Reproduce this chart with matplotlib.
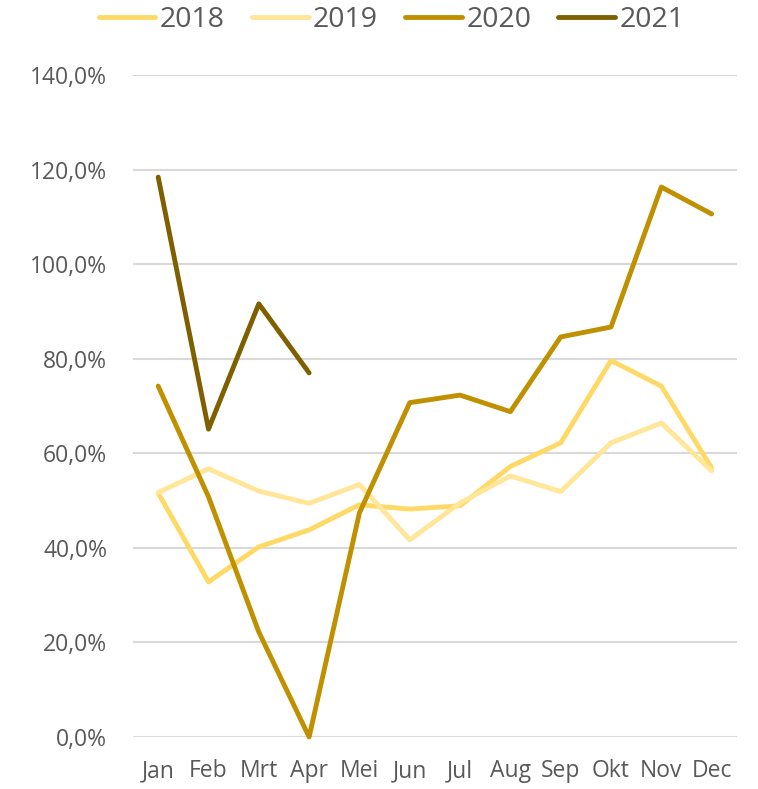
import matplotlib
matplotlib.use("Agg")
import matplotlib.pyplot as plt
from matplotlib.ticker import FuncFormatter

months = ["Jan", "Feb", "Mrt", "Apr", "Mei", "Jun", "Jul", "Aug", "Sep", "Okt", "Nov", "Dec"]
v2018 = [51.6, 32.8, 40.2, 43.8, 49.1, 48.2, 48.9, 57.2, 62.2, 79.6, 74.2, 56.9]
v2019 = [51.7, 56.7, 52.0, 49.4, 53.4, 41.7, 49.5, 55.2, 51.9, 62.2, 66.4, 56.3]
v2020 = [74.2, 50.8, 22.2, 0.0, 47.4, 70.7, 72.3, 68.8, 84.6, 86.7, 116.3, 110.6]
v2021 = [118.4, 65.1, 91.6, 77.0]

series = [("2018", v2018, "#FFD966"), ("2019", v2019, "#FFE699"),
          ("2020", v2020, "#BF9000"), ("2021", v2021, "#7F6000")]

plt.rcParams['font.family'] = ['Open Sans', 'DejaVu Sans']
fig = plt.figure(figsize=(7.58, 7.89), dpi=100)
ax = fig.add_axes([0.1755, 0.0659, 0.7965, 0.8391])

for name, vals, col in series:
    ax.plot(range(len(vals)), vals, color=col, lw=3.5, label=name,
            solid_capstyle='round', solid_joinstyle='round', clip_on=False, zorder=3)

ax.set_xlim(-0.5, 11.5)
ax.set_ylim(0, 140)
ax.set_yticks(range(0, 141, 20))
ax.yaxis.set_major_formatter(FuncFormatter(lambda v, p: f"{v:.1f}%".replace(".", ",")))
ax.set_xticks(range(12))
ax.set_xticklabels(months)
ax.grid(axis='y', color='#D9D9D9', lw=1.5, zorder=0)
ax.set_axisbelow(True)
for s in ax.spines.values():
    s.set_visible(False)
ax.tick_params(length=0, labelsize=16.5, colors='#595959')
ax.tick_params(axis='x', pad=16)
ax.tick_params(axis='y', pad=18.5)

leg = fig.legend(loc='center', bbox_to_anchor=(0.5165, 0.975), ncol=4, frameon=False,
                 fontsize=20.5, handlelength=2.0, handletextpad=0.15, columnspacing=0.95)
for t in leg.get_texts():
    t.set_color('#595959')

fig.savefig("out.png", dpi=100)
